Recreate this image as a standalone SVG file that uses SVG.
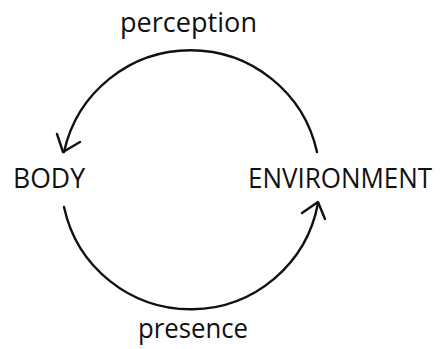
<svg xmlns="http://www.w3.org/2000/svg" width="443" height="349" viewBox="0 0 443 349">
<style>
.lbl{font-family:"Open Sans","Noto Sans",sans-serif;font-size:28px;fill:#111;}
.ln{fill:none;stroke:#111;stroke-width:2.4;stroke-linecap:round;stroke-linejoin:round;}
</style>
<rect width="443" height="349" fill="#fff"/>
<g id="body"><text class="lbl" x="13" y="188" textLength="72" lengthAdjust="spacingAndGlyphs">BODY</text></g>
<g id="environment"><text class="lbl" transform="translate(248,188) scale(0.93,1)" x="0" y="0" textLength="198" lengthAdjust="spacingAndGlyphs">ENVIRONMENT</text></g>
<g id="connectors">
<path class="ln" d="M317,152 A129.5,129.5 0 0 0 64,152"/>
<polyline class="ln" points="57,134 63,152 80,142"/>
<text class="lbl" x="120" y="32" textLength="137" lengthAdjust="spacingAndGlyphs">perception</text>
<path class="ln" d="M64,207 A129.5,129.5 0 0 0 318,203"/>
<polyline class="ln" points="302,213 318,202 325,219"/>
<text class="lbl" x="138" y="338" textLength="110" lengthAdjust="spacingAndGlyphs">presence</text>
</g>
</svg>
